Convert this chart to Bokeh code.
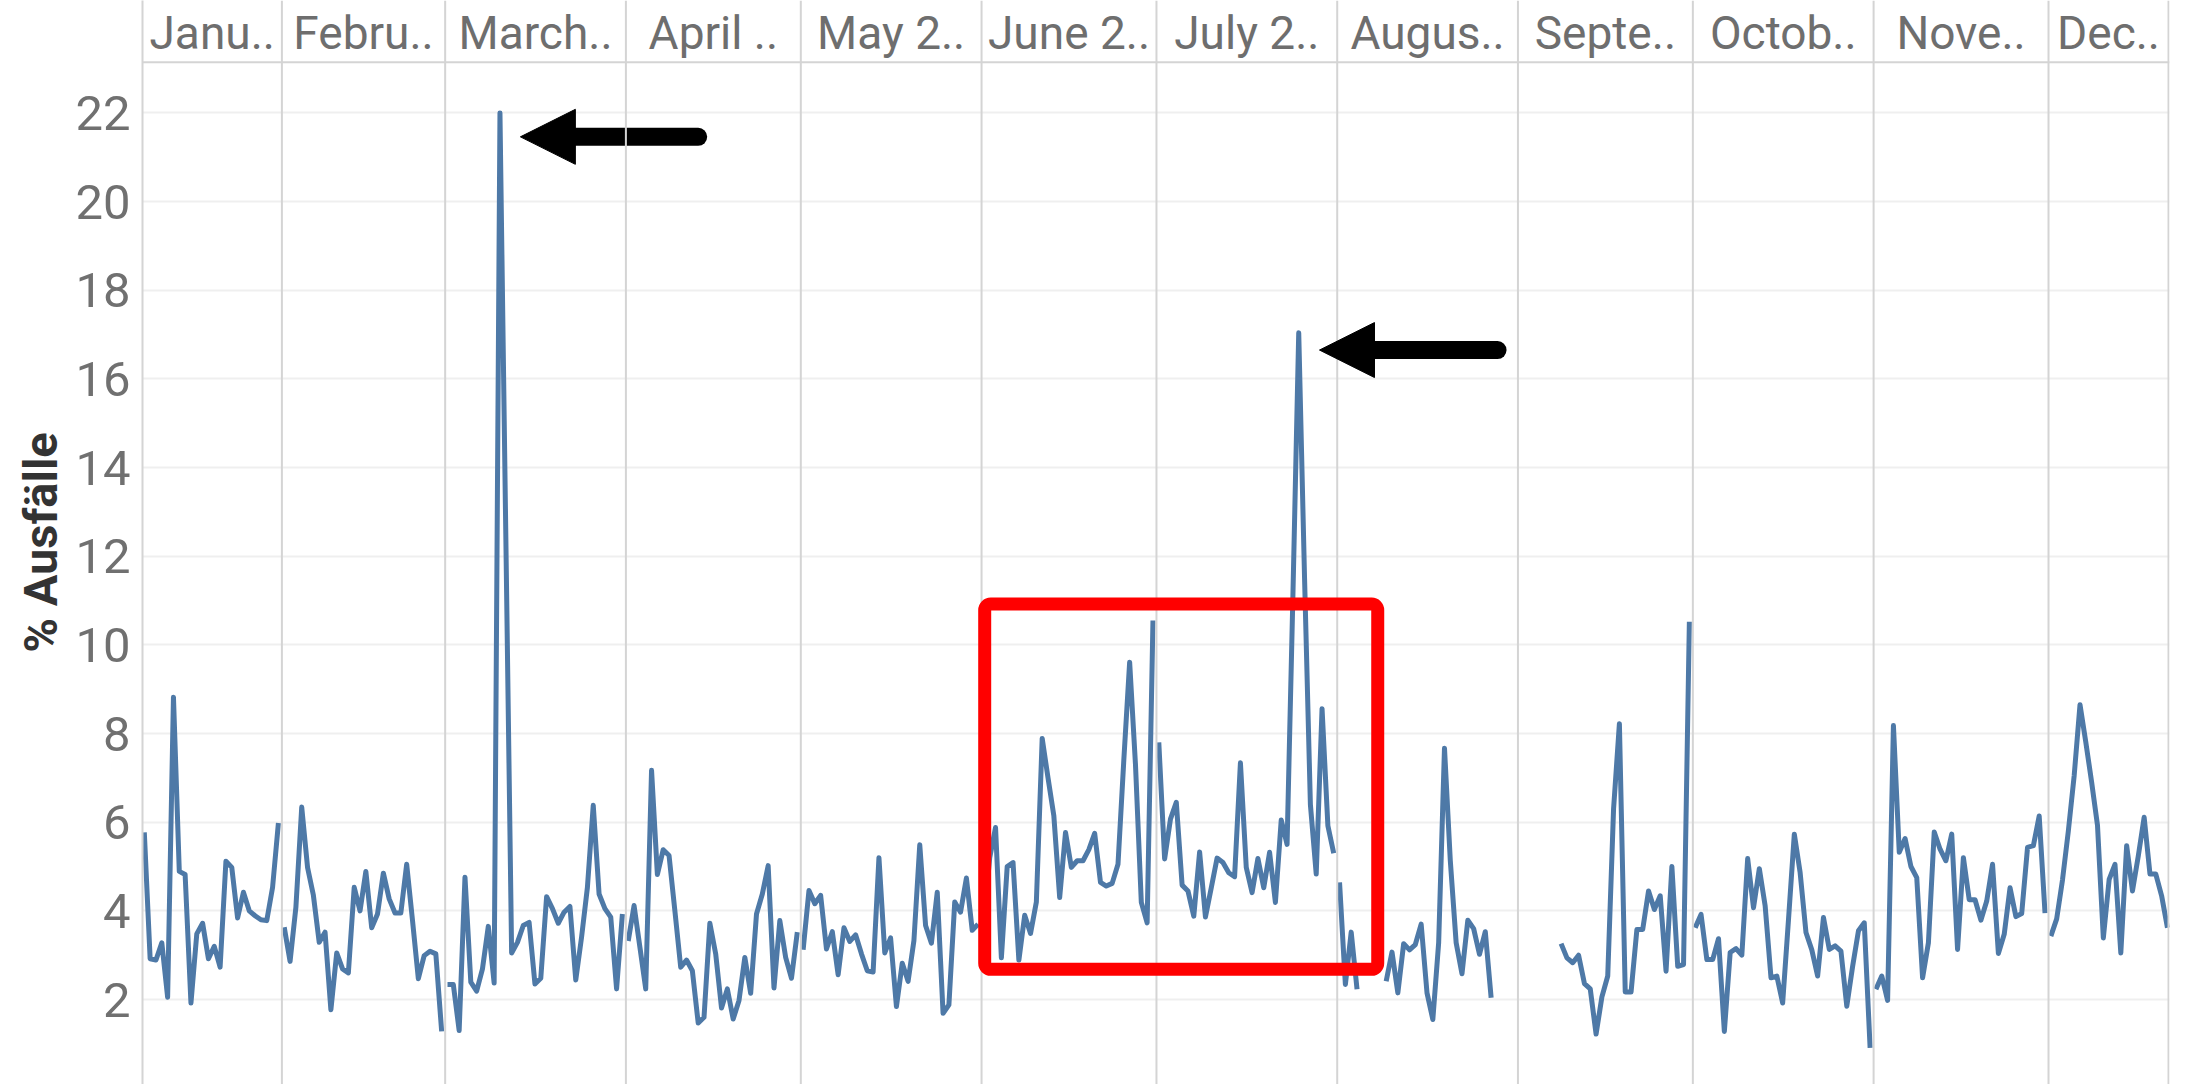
from bokeh.plotting import figure
from bokeh.models import (FixedTicker, Span, BoxAnnotation, Arrow, NormalHead)
from bokeh.core.properties import value
from bokeh.embed import file_html
from bokeh.resources import INLINE

# ---------------- data ----------------
month_labels = ["Janu..", "Febru..", "March..", "April ..", "May 2..", "June 2..",
                "July 2..", "Augus..", "Septe..", "Octob..", "Nove..", "Dec.."]
month_start_doy = [0, 31, 59, 90, 120, 151, 181, 212, 243, 273, 304, 334]
first_day = [8, 1, 1, 1, 1, 1, 1, 1, 8, 1, 1, 1]

jan = [5.77, 2.92, 2.89, 3.28, 2.05, 8.82, 4.89, 4.82, 1.92, 3.48, 3.72, 2.92, 3.2, 2.73,
       5.12, 4.98, 3.84, 4.42, 4.0, 3.89, 3.8, 3.78, 4.53, 5.98]
feb = [3.63, 2.86, 4.08, 6.34, 4.98, 4.35, 3.29, 3.52, 1.77, 3.05, 2.69, 2.6, 4.53, 4.0,
       4.89, 3.62, 3.93, 4.85, 4.27, 3.95, 3.95, 5.05, 3.78, 2.47, 2.99, 3.09, 3.03, 1.28]
mar = [2.34, 2.34, 1.3, 4.76, 2.39, 2.19, 2.69, 3.65, 2.37, 22.0, 12.5, 3.05, 3.29, 3.67,
       3.74, 2.35, 2.48, 4.32, 4.05, 3.72, 3.97, 4.1, 2.44, 3.41, 4.53, 6.38, 4.38, 4.05,
       3.86, 2.24, 3.93]
apr = [3.32, 4.12, 3.18, 2.24, 7.17, 4.82, 5.38, 5.25, 4.0, 2.73, 2.89, 2.65, 1.47, 1.6,
       3.72, 3.03, 1.81, 2.24, 1.56, 1.98, 2.95, 2.14, 3.93, 4.38, 5.02, 2.26, 3.78, 2.95,
       2.48, 3.52]
may = [3.12, 4.46, 4.16, 4.35, 3.14, 3.53, 2.56, 3.62, 3.31, 3.46, 3.03, 2.65, 2.62, 5.2,
       3.05, 3.39, 1.84, 2.82, 2.41, 3.33, 5.49, 3.67, 3.27, 4.42, 1.69, 1.88, 4.2, 3.97,
       4.74, 3.56, 3.7]
jun = [3.8, 5.2, 5.88, 2.94, 5.0, 5.09, 2.89, 3.9, 3.49, 4.2, 7.89, 7.0, 6.14, 4.3, 5.77,
       4.98, 5.13, 5.13, 5.38, 5.75, 4.64, 4.56, 4.62, 5.05, 7.4, 9.61, 7.3, 4.19, 3.73, 10.55]
jul = [7.8, 5.17, 6.07, 6.45, 4.58, 4.45, 3.88, 5.33, 3.86, 4.52, 5.19, 5.09, 4.86, 4.77,
       7.34, 4.98, 4.41, 5.18, 4.52, 5.32, 4.19, 6.05, 5.5, 11.1, 17.04, 11.5, 6.4, 4.83,
       8.56, 5.92, 5.3]
aug = [4.64, 2.34, 3.52, 2.23, None, None, None, None, 2.41, 3.07, 2.15, 3.26, 3.12, 3.24,
       3.7, 2.15, 1.55, 3.28, 7.67, 5.13, 3.28, 2.58, 3.79, 3.6, 3.02, 3.53, 2.04]
sep = [3.26, 2.94, 2.83, 3.0, 2.36, 2.24, 1.22, 2.06, 2.53, 6.3, 8.22, 2.17, 2.17, 3.58,
       3.58, 4.45, 4.03, 4.34, 2.64, 5.0, 2.75, 2.79, 10.52]
oct_ = [3.62, 3.92, 2.9, 2.9, 3.37, 1.28, 3.06, 3.15, 3.0, 5.18, 4.07, 4.95, 4.11, 2.49,
        2.53, 1.92, 3.8, 5.73, 4.86, 3.51, 3.12, 2.53, 3.85, 3.13, 3.21, 3.09, 1.85, 2.75,
        3.55, 3.73, 0.91]
nov = [2.23, 2.53, 1.98, 8.18, 5.32, 5.63, 5.0, 4.75, 2.49, 3.28, 5.78, 5.39, 5.13, 5.73,
       3.13, 5.2, 4.25, 4.25, 3.79, 4.22, 5.05, 3.04, 3.47, 4.52, 3.87, 3.94, 5.43, 5.47,
       6.14, 3.95]
dec = [3.43, 3.82, 4.7, 5.8, 7.05, 8.65, 7.8, 6.9, 5.93, 3.39, 4.71, 5.05, 3.05, 5.47,
       4.45, 5.24, 6.11, 4.83, 4.83, 4.34, 3.62]
y_ticks = [2, 4, 6, 8, 10, 12, 14, 16, 18, 20, 22]

months = [jan, feb, mar, apr, may, jun, jul, aug, sep, oct_, nov, dec]

# ---------------- layout constants ----------------
X_START, X_END = 7.09, 354.75
RIGHT_EDGE = 354.58
Y_START, Y_END = 0.083, 24.535
HEADER_LINE = 23.14
HEADER_TEXT_Y = 23.81
BLUE = "#4e79a7"
DIV = "#d4d4d4"
FONT = "Roboto"

xs, ys = [], []
for m, vals in enumerate(months):
    for i, v in enumerate(vals):
        d = first_day[m] + i
        xs.append(month_start_doy[m] + d - 1 + 0.4)
        ys.append(float("nan") if v is None else v)
    xs.append(float("nan"))
    ys.append(float("nan"))

p = figure(width=2184, height=1084, x_range=(X_START, X_END), y_range=(Y_START, Y_END),
           output_backend="svg", toolbar_location=None, x_axis_location=None,
           min_border_left=142, min_border_right=15, min_border_top=0, min_border_bottom=0)
p.outline_line_color = None
p.background_fill_color = "white"
p.border_fill_color = "white"
p.xgrid.visible = False
p.ygrid.grid_line_color = "#efefef"
p.ygrid.grid_line_width = 2

ax = p.yaxis[0]
ax.ticker = FixedTicker(ticks=y_ticks)
ax.axis_line_color = DIV
ax.axis_line_width = 2
ax.major_tick_line_color = None
ax.minor_tick_line_color = None
ax.major_tick_out = 0
ax.major_label_standoff = 12
ax.major_label_text_font = FONT
ax.major_label_text_font_size = "49px"
ax.major_label_text_color = "#707070"
ax.axis_label = "% Ausfälle"
ax.axis_label_text_font = FONT
ax.axis_label_text_font_style = "bold"
ax.axis_label_text_font_size = "47px"
ax.axis_label_text_color = "#333333"
ax.axis_label_standoff = 4

# month dividers and header
bounds = month_start_doy[1:]
for b in bounds + [RIGHT_EDGE]:
    p.add_layout(Span(location=b, dimension="height", line_color=DIV, line_width=2))
p.add_layout(Span(location=HEADER_LINE, dimension="width", line_color=DIV, line_width=2))

edges = [X_START] + bounds + [RIGHT_EDGE]
centers = [(edges[i] + edges[i + 1]) / 2 for i in range(12)]
p.text(x=centers, y=[HEADER_TEXT_Y] * 12, text=month_labels, text_align="center",
       text_baseline="middle", text_font=value(FONT), text_font_size="46px",
       text_color="#6e6e6e")

p.line(xs, ys, line_color=BLUE, line_width=5, line_join="round")

# highlight box
p.add_layout(BoxAnnotation(left=151.54, right=218.95, bottom=2.68, top=10.92,
                           fill_alpha=0, line_color="#ff0000", line_alpha=1.0,
                           line_width=13, border_radius=6))

# arrows
for tip_x, tail_x, yy in [(71.9, 102.4, 21.46), (208.96, 239.5, 16.65)]:
    p.segment(x0=[tail_x], y0=[yy], x1=[tip_x + 5], y1=[yy], line_color="black",
              line_width=18, line_cap="round")
    p.add_layout(Arrow(end=NormalHead(size=55, fill_color="black", line_color="black"),
                       x_start=tip_x + 5, y_start=yy, x_end=tip_x, y_end=yy,
                       line_alpha=0))

open("out.html", "w").write(file_html(p, INLINE))
